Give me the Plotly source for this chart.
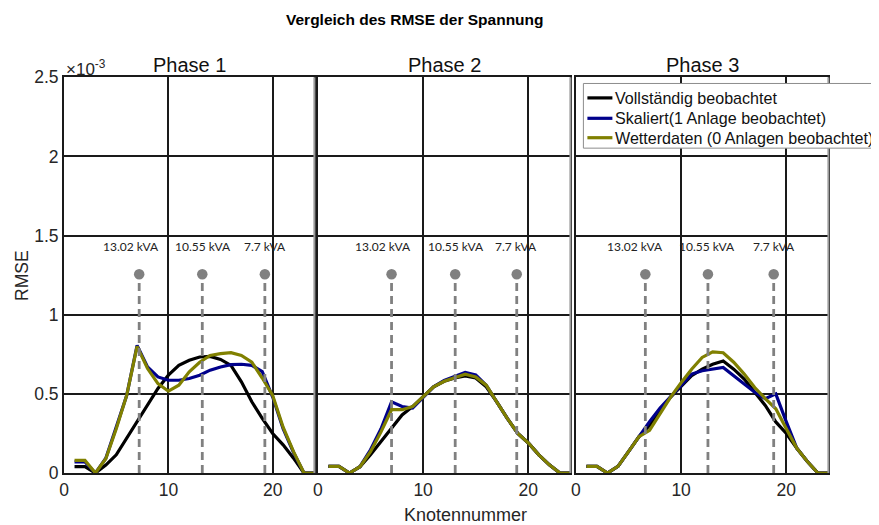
import plotly.graph_objects as go

# ---------------- data (RMSE in units of 1e-3) ----------------
nodes = list(range(1, 25))

p1_voll = [0.04, 0.04, 0.0, 0.05, 0.115, 0.22, 0.325, 0.43, 0.534, 0.618, 0.68, 0.712,
           0.733, 0.737, 0.718, 0.68, 0.576, 0.45, 0.345, 0.25, 0.178, 0.094, 0.0, 0.0]
p1_skal = [0.07, 0.07, 0.0, 0.094, 0.29, 0.49, 0.806, 0.67, 0.607, 0.586, 0.586, 0.597,
           0.618, 0.65, 0.67, 0.685, 0.687, 0.68, 0.64, 0.48, 0.28, 0.13, 0.0, 0.0]
p1_wett = [0.08, 0.08, 0.0, 0.09, 0.28, 0.49, 0.80, 0.66, 0.565, 0.517, 0.555, 0.64,
           0.70, 0.743, 0.754, 0.76, 0.743, 0.70, 0.60, 0.49, 0.29, 0.135, 0.0, 0.0]

p2_voll = [0.042, 0.042, 0.0, 0.04, 0.115, 0.20, 0.28, 0.367, 0.42, 0.48, 0.545, 0.58,
           0.60, 0.614, 0.60, 0.545, 0.45, 0.345, 0.25, 0.19, 0.115, 0.052, 0.0, 0.0]
p2_skal = [0.042, 0.042, 0.0, 0.04, 0.147, 0.28, 0.45, 0.42, 0.41, 0.48, 0.545, 0.585,
           0.61, 0.635, 0.62, 0.555, 0.45, 0.345, 0.25, 0.19, 0.115, 0.052, 0.0, 0.0]
p2_wett = [0.042, 0.042, 0.0, 0.04, 0.135, 0.26, 0.40, 0.40, 0.42, 0.48, 0.545, 0.58,
           0.60, 0.624, 0.607, 0.555, 0.45, 0.345, 0.25, 0.19, 0.115, 0.052, 0.0, 0.0]

p3_voll = [0.042, 0.042, 0.0, 0.042, 0.135, 0.23, 0.30, 0.395, 0.48, 0.55, 0.615, 0.656,
           0.6875, 0.708, 0.656, 0.594, 0.51, 0.427, 0.323, 0.25, 0.156, 0.073, 0.0, 0.0]
p3_skal = [0.042, 0.042, 0.0, 0.042, 0.135, 0.23, 0.325, 0.41, 0.48, 0.55, 0.625, 0.646,
           0.656, 0.667, 0.615, 0.5625, 0.51, 0.47, 0.50, 0.323, 0.156, 0.073, 0.0, 0.0]
p3_wett = [0.042, 0.042, 0.0, 0.042, 0.135, 0.23, 0.27, 0.375, 0.48, 0.57, 0.656, 0.73,
           0.765, 0.76, 0.70, 0.625, 0.54, 0.47, 0.406, 0.28, 0.156, 0.073, 0.0, 0.0]

series_names = ["Vollständig beobachtet", "Skaliert(1 Anlage beobachtet)",
                "Wetterdaten (0 Anlagen beobachtet)"]
phase_titles = ["Phase 1", "Phase 2", "Phase 3"]

# PV installations (stems)
stem_labels = ["13.02 kVA", "10.55 kVA", "7.7 kVA"]
stem_x_p1 = [7.2, 13.25, 19.25]
stem_x_p2 = [7.0, 13.05, 18.9]
stem_x_p3 = [6.6, 12.55, 18.8]
stem_height = 1.255  # x 1e-3
label_height = 1.43  # x 1e-3

x_ticks = [0, 10, 20]
y_ticks = [0, 0.5, 1, 1.5, 2, 2.5]
y_ticktext = ["0", "0.5", "1", "1.5", "2", "2.5"]
scale = 1e-3

# ---------------- pixel -> paper mapping of the rendered page ----------------
OX, OY, PW, PH = 10.6, 17.2, 874.0, 507.5


def px(sx):
    return (sx - OX) / PW


def py(sy):
    return 1 - (sy - OY) / PH


colors = ["#000000", "#00008B", "#808000"]
panels = [
    (p1_voll, p1_skal, p1_wett, stem_x_p1),
    (p2_voll, p2_skal, p2_wett, stem_x_p2),
    (p3_voll, p3_skal, p3_wett, stem_x_p3),
]
label_shift = [[-0.75, 0.1, 0.0], [-0.8, 0.05, -0.05], [-0.95, -0.05, 0.05]]

fig = go.Figure()
for i, (v, s, w, sx) in enumerate(panels):
    xa = "x" if i == 0 else f"x{i+1}"
    ya = "y" if i == 0 else f"y{i+1}"
    for k, ser in enumerate([v, s, w]):
        fig.add_trace(go.Scatter(
            x=nodes, y=[val * scale for val in ser], mode="lines",
            line=dict(color=colors[k], width=3.2),
            name=series_names[k], showlegend=False,
            xaxis=xa, yaxis=ya, hoverinfo="skip"))
    for j, xs in enumerate(sx):
        fig.add_trace(go.Scatter(
            x=[xs, xs], y=[0, stem_height * scale], mode="lines",
            line=dict(color="#808080", width=2.8, dash="8px,5px"),
            showlegend=False, xaxis=xa, yaxis=ya, hoverinfo="skip"))
        fig.add_trace(go.Scatter(
            x=[xs], y=[stem_height * scale], mode="markers",
            marker=dict(color="#808080", size=10.5),
            showlegend=False, xaxis=xa, yaxis=ya, hoverinfo="skip"))
        fig.add_annotation(
            x=xs + label_shift[i][j], y=label_height * scale,
            xref=xa, yref=ya, xanchor="center", yanchor="middle",
            text=stem_labels[j], showarrow=False,
            font=dict(family="Lato", size=12, color="#222222"))

pix_dom = [(61.7, 312.0), (315.5, 568.0), (573.5, 826.0)]
domains = [[px(a), px(b)] for a, b in pix_dom]
ydom = [py(474.5), py(76.7)]
tickfont = dict(family="Liberation Sans", size=17.5, color="#262626")

layout = dict(
    width=879, height=525, autosize=False,
    margin=dict(l=0, r=0, t=0, b=0),
    paper_bgcolor="white", plot_bgcolor="white",
    showlegend=False,
)
for i in range(3):
    xk = "xaxis" if i == 0 else f"xaxis{i+1}"
    yk = "yaxis" if i == 0 else f"yaxis{i+1}"
    ya = "y" if i == 0 else f"y{i+1}"
    xa = "x" if i == 0 else f"x{i+1}"
    layout[xk] = dict(domain=domains[i], anchor=ya, range=[0, 24],
                      tickvals=x_ticks, ticktext=[str(t) for t in x_ticks],
                      showgrid=True, gridcolor="#1a1a1a", gridwidth=1.6,
                      showline=True, mirror=True, linecolor="#1a1a1a", linewidth=2,
                      zeroline=False, ticks="", tickfont=tickfont)
    layout[yk] = dict(domain=ydom, anchor=xa, range=[0, 2.5e-3],
                      tickvals=[t * scale for t in y_ticks], ticktext=y_ticktext,
                      showticklabels=(i == 0),
                      showgrid=True, gridcolor="#1a1a1a", gridwidth=1.6,
                      showline=True, mirror=True, linecolor="#1a1a1a", linewidth=2,
                      zeroline=False, ticks="", tickfont=tickfont)
fig.update_layout(**layout)

# lighter right-hand border of each panel (as in the reference)
for i in range(3):
    xa = "x" if i == 0 else f"x{i+1}"
    ya = "y" if i == 0 else f"y{i+1}"
    fig.add_shape(type="line", xref=f"{xa} domain", yref=f"{ya} domain",
                  x0=1, x1=1, y0=0, y1=1, line=dict(color="#9a9a9a", width=2))

# legend box (drawn as in the reference, overlapping the right edge of phase 3)
leg_left, leg_right, leg_top, leg_bottom = 581, 869.5, 83, 148
fig.add_shape(type="rect", xref="paper", yref="paper",
              x0=px(leg_left), x1=px(leg_right), y0=py(leg_bottom), y1=py(leg_top),
              fillcolor="white", line=dict(color="#8c8c8c", width=1), layer="above")
leg_rows = [97.5, 118, 137.5]
for k in range(3):
    fig.add_shape(type="line", xref="paper", yref="paper",
                  x0=px(585), x1=px(610), y0=py(leg_rows[k]), y1=py(leg_rows[k]),
                  line=dict(color=colors[k], width=3.2), layer="above")
    fig.add_annotation(x=px(611), y=py(leg_rows[k]), xref="paper", yref="paper",
                       xanchor="left", yanchor="middle", text=series_names[k],
                       showarrow=False,
                       font=dict(family="Liberation Sans", size=16.1, color="#111111"))

# titles and labels
fig.add_annotation(x=px(413), y=py(19), xref="paper", yref="paper",
                   xanchor="center", yanchor="middle",
                   text="<b>Vergleich des RMSE der Spannung</b>", showarrow=False,
                   font=dict(family="Liberation Sans", size=15.5, color="#000000"))
for i in range(3):
    cx = px((pix_dom[i][0] + pix_dom[i][1]) / 2)
    fig.add_annotation(x=cx, y=py(64), xref="paper", yref="paper",
                       xanchor="center", yanchor="middle",
                       text=phase_titles[i], showarrow=False,
                       font=dict(family="Liberation Sans", size=20, color="#111111"))
fig.add_annotation(x=px(62), y=py(67), xref="paper", yref="paper",
                   xanchor="left", yanchor="middle",
                   text="×10<sup>-3</sup>", showarrow=False,
                   font=dict(family="Liberation Sans", size=17, color="#262626"))
fig.add_annotation(x=px(19), y=py(276), xref="paper", yref="paper",
                   xanchor="center", yanchor="middle",
                   text="RMSE", textangle=-90, showarrow=False,
                   font=dict(family="Liberation Sans", size=17.5, color="#262626"))
fig.add_annotation(x=px(463), y=py(517), xref="paper", yref="paper",
                   xanchor="center", yanchor="middle",
                   text="Knotennummer", showarrow=False,
                   font=dict(family="Liberation Sans", size=18, color="#262626"))

fig.write_html("out.html")
